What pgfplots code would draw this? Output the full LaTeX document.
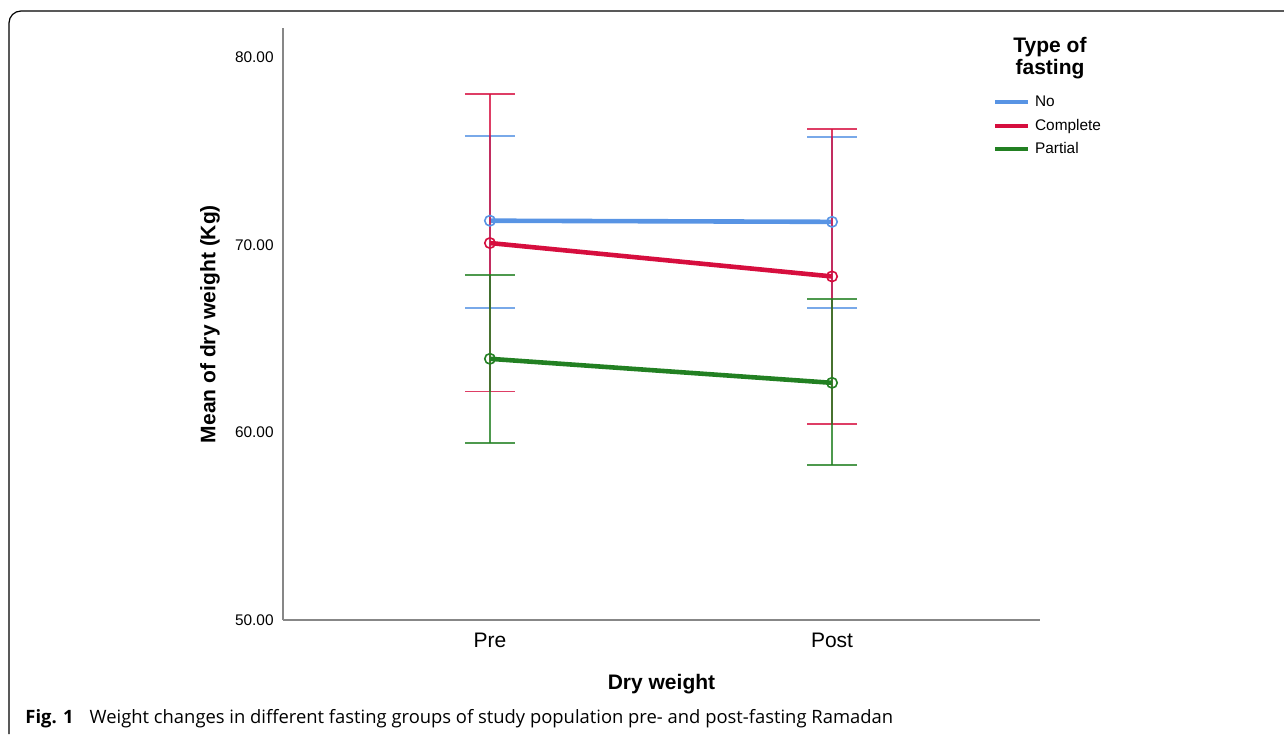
\documentclass[border=0pt]{standalone}
\usepackage{fontspec}
\setmainfont{Liberation Sans}
\newfontfamily\capfont{Open Sans}
\usepackage{pgfplots}
\pgfplotsset{compat=1.18}
\definecolor{cNo}{RGB}{88,148,228}
\definecolor{cComp}{RGB}{214,14,62}
\definecolor{cPart}{RGB}{34,128,34}
\definecolor{axgray}{RGB}{135,135,135}
\begin{document}
\begin{tikzpicture}
\useasboundingbox (0pt,0pt) rectangle (642pt,-367pt);
\draw[line width=0.6pt, rounded corners=6pt] (4.5pt,-367pt) -- (4.5pt,-5.5pt) -- (642pt,-5.5pt);
\begin{axis}[
  at={(141.5pt,-310pt)}, anchor=south west,
  scale only axis, width=378.5pt, height=296pt,
  axis lines=left, axis line style={axgray, line width=1pt, -},
  xmin=0.395, xmax=2.608, ymin=50, ymax=81.55,
  xtick={1,2}, xticklabels={Pre,Post},
  ytick={50,60,70,80},
  major tick length=0pt,
  /pgf/number format/assume math mode=true,
  yticklabel={\pgfmathprintnumber[fixed,fixed zerofill,precision=2]{\tick}},
  yticklabel style={font=\fontsize{7.7}{9}\selectfont, inner sep=0pt, xshift=-4.5pt},
  xticklabel style={font=\fontsize{10.5}{12}\selectfont, inner sep=0pt, yshift=-6.5pt},
  xlabel={\textbf{Dry weight}},
  ylabel={\textbf{Mean of dry weight (Kg)}},
  every axis x label/.style={at={(axis description cs:0.5,-0.108)}, anchor=center, font=\fontsize{10.5}{12}\selectfont},
  every axis y label/.style={at={(axis description cs:-0.0964,0.5)}, rotate=90, anchor=center, font=\fontsize{10.5}{12}\selectfont},
  legend style={at={(axis description cs:0.938,0.887)}, anchor=north west, draw=none, fill=none,
    inner sep=0pt, outer sep=0pt, font=\fontsize{7.7}{9}\selectfont,
    nodes={inner sep=0pt, text height=6pt, text depth=1.5pt, anchor=west},
    row sep=4.25pt, column sep=2.5pt},
  legend cell align=left,
  legend image code/.code={\draw[#1, line width=2pt] (0pt,0pt) -- (16.5pt,0pt);},
  clip=false,
]
\addlegendimage{cNo}\addlegendentry{No}
\addlegendimage{cComp}\addlegendentry{Complete}
\addlegendimage{cPart}\addlegendentry{Partial}
\addplot[forget plot, color=cNo, line width=2.3pt, mark=o,
  mark options={line width=0.8pt, fill=white, mark size=2.6pt, solid},
  error bars/.cd, y dir=both, y explicit,
  error bar style={line width=0.8pt, opacity=0.8},
  error mark options={rotate=90, mark size=12.5pt, line width=0.9pt, opacity=0.8}]
  coordinates {(1,71.28) += (0,4.52) -= (0,4.65) (2,71.22) += (0,4.54) -= (0,4.59)};
\addplot[forget plot, color=cComp, line width=2.3pt, mark=o,
  mark options={line width=0.8pt, fill=white, mark size=2.6pt, solid},
  error bars/.cd, y dir=both, y explicit,
  error bar style={line width=0.8pt, opacity=0.8},
  error mark options={rotate=90, mark size=12.5pt, line width=0.9pt, opacity=0.8}]
  coordinates {(1,70.09) += (0,7.94) -= (0,7.91) (2,68.31) += (0,7.86) -= (0,7.88)};
\addplot[forget plot, color=cPart, line width=2.3pt, mark=o,
  mark options={line width=0.8pt, fill=white, mark size=2.6pt, solid},
  error bars/.cd, y dir=both, y explicit,
  error bar style={line width=0.8pt, opacity=0.8},
  error mark options={rotate=90, mark size=12.5pt, line width=0.9pt, opacity=0.8}]
  coordinates {(1,63.92) += (0,4.45) -= (0,4.49) (2,62.64) += (0,4.47) -= (0,4.40)};
\end{axis}
\node[align=center, font=\bfseries\fontsize{10.5}{11}\selectfont, inner sep=0pt] at (525pt,-29pt) {Type of\\fasting};
\node[anchor=base west, inner sep=0pt, font=\capfont\fontsize{9.2}{10}\selectfont] at (12.5pt,-361.5pt) {\textbf{Fig. 1}\hspace{8pt}Weight changes in different fasting groups of study population pre- and post-fasting Ramadan};
\end{tikzpicture}
\end{document}
